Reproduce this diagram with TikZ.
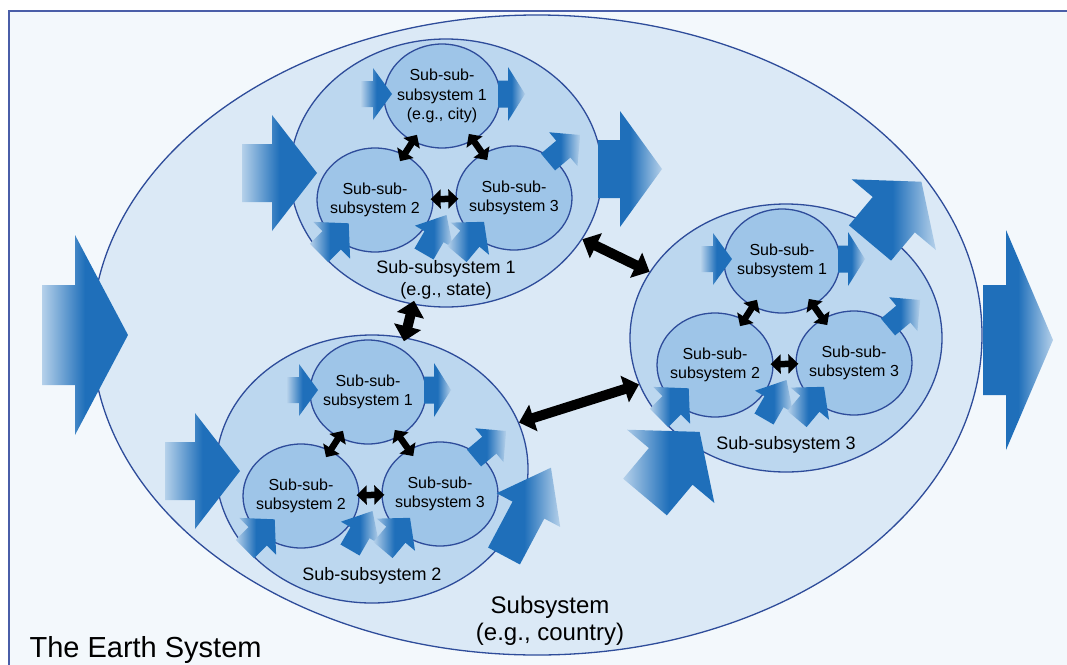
\documentclass[tikz,border=0pt]{standalone}
\usepackage{fontspec}
\setmainfont{Liberation Sans}
\usetikzlibrary{shapes.geometric,arrows.meta}
\definecolor{paper}{HTML}{F3F8FC}
\definecolor{frameline}{HTML}{4A5EA8}
\definecolor{earthfill}{HTML}{DBE9F6}
\definecolor{subfill}{HTML}{BCD7EF}
\definecolor{cellfill}{HTML}{9EC5E8}
\definecolor{rimblue}{HTML}{2E4C9A}
\definecolor{flowblue}{HTML}{1F6FBA}
\begin{document}
\begin{tikzpicture}[x=1pt,y=-1pt,
rim/.style={draw=rimblue,line width=1.3pt},
region/.style={ellipse,rim,fill=subfill,minimum width=312pt,minimum height=268pt,inner sep=0pt},
unit/.style={ellipse,rim,fill=cellfill,minimum width=116pt,minimum height=104pt,inner sep=0pt},
tag/.style={align=center,font=\fontsize{16}{19.5}\selectfont},
caption/.style={align=center,font=\fontsize{18}{22}\selectfont},
inflow/.style={left color=flowblue!20!earthfill,right color=flowblue,middle color=flowblue},
outflow/.style={left color=flowblue,right color=flowblue!20!earthfill,middle color=flowblue},
link/.style={line width=6.5pt,shorten <=-8pt,shorten >=-8pt,{Triangle[length=10pt,width=19pt]}-{Triangle[length=10pt,width=19pt]}},
bond/.style={line width=10pt,{Triangle[length=15pt,width=27pt]}-{Triangle[length=15pt,width=27pt]}}]
\useasboundingbox (0,0) rectangle (1067,664);
\draw[frameline,line width=2pt,fill=paper] (9,11) rectangle (1100,700);
\draw[rim,fill=earthfill] (537,335) ellipse [x radius=445,y radius=320];
% block arrow: tail, angle, length, head length, head half-width, shading
\def\flow#1#2#3#4#5#6{
\begin{scope}[shift={#1},rotate=#2]
\shade[#6] (0,-#5/2)--({#3-#4},-#5/2)--({#3-#4},-#5)--(#3,0)--({#3-#4},#5)--({#3-#4},#5/2)--(0,#5/2)--cycle;
\end{scope}
}
% one sub-subsystem with its three cells
\def\subsys#1#2#3#4{
\begin{scope}[shift={#2}]
\node[region] (#1) at (0,0) {};
\node[unit] (#1a) at (-4,-77) {};
\node[unit] (#1b) at (-71,27) {};
\node[unit] (#1c) at (68,25) {};
\node[tag] at (#1a) {#3};
\node[tag] at (#1b) {Sub-sub-\\subsystem 2};
\node[tag] at (#1c) {Sub-sub-\\subsystem 3};
\node[caption] at (0,107) {#4};
\draw[link] (#1a) -- (#1b);
\draw[link] (#1a) -- (#1c);
\draw[link,shorten <=-3pt,shorten >=-3pt] (#1b) -- (#1c);
\flow{(-85,-79)}{0}{31}{19}{26}{inflow}
\flow{(52,-79)}{0}{27}{17}{27}{outflow}
\flow{(-127,80)}{45}{42}{24}{26}{inflow}
\flow{(-22,81)}{60}{45}{25}{22}{outflow}
\flow{(11,81)}{50}{42}{22}{25}{inflow}
\flow{(102,-11)}{40}{42}{22}{22}{outflow}
\end{scope}
}
\flow{(42,335)}{0}{86}{53}{100}{inflow}
\flow{(983,340)}{0}{70}{47}{110}{outflow}
\subsys{ss1}{(446,173)}{Sub-sub-\\subsystem 1\\(e.g., city)}{Sub-subsystem 1\\(e.g., state)}
\subsys{ss2}{(372,469)}{Sub-sub-\\subsystem 1}{Sub-subsystem 2}
\subsys{ss3}{(786,338)}{Sub-sub-\\subsystem 1}{Sub-subsystem 3}
\draw[bond] (ss1) -- (ss3);
\draw[bond,shorten <=-4pt,shorten >=-4pt] (ss1) -- (ss2);
\draw[bond] (ss2) -- (ss3);
\flow{(242,173)}{0}{75}{45}{58}{inflow}
\flow{(598,169)}{0}{64}{42}{58}{outflow}
\flow{(165,471)}{0}{75}{45}{58}{inflow}
\flow{(504,556)}{62}{100}{48}{36}{outflow}
\flow{(870,243)}{50}{80}{43}{55}{outflow}
\flow{(645,497)}{50}{85}{45}{57}{inflow}
\node[align=center,font=\fontsize{24}{27}\selectfont] (country) at (550,621) {Subsystem\\(e.g., country)};
\node[anchor=base west,font=\fontsize{29}{34}\selectfont] (earth) at (26,657) {The Earth System};
\end{tikzpicture}
\end{document}
